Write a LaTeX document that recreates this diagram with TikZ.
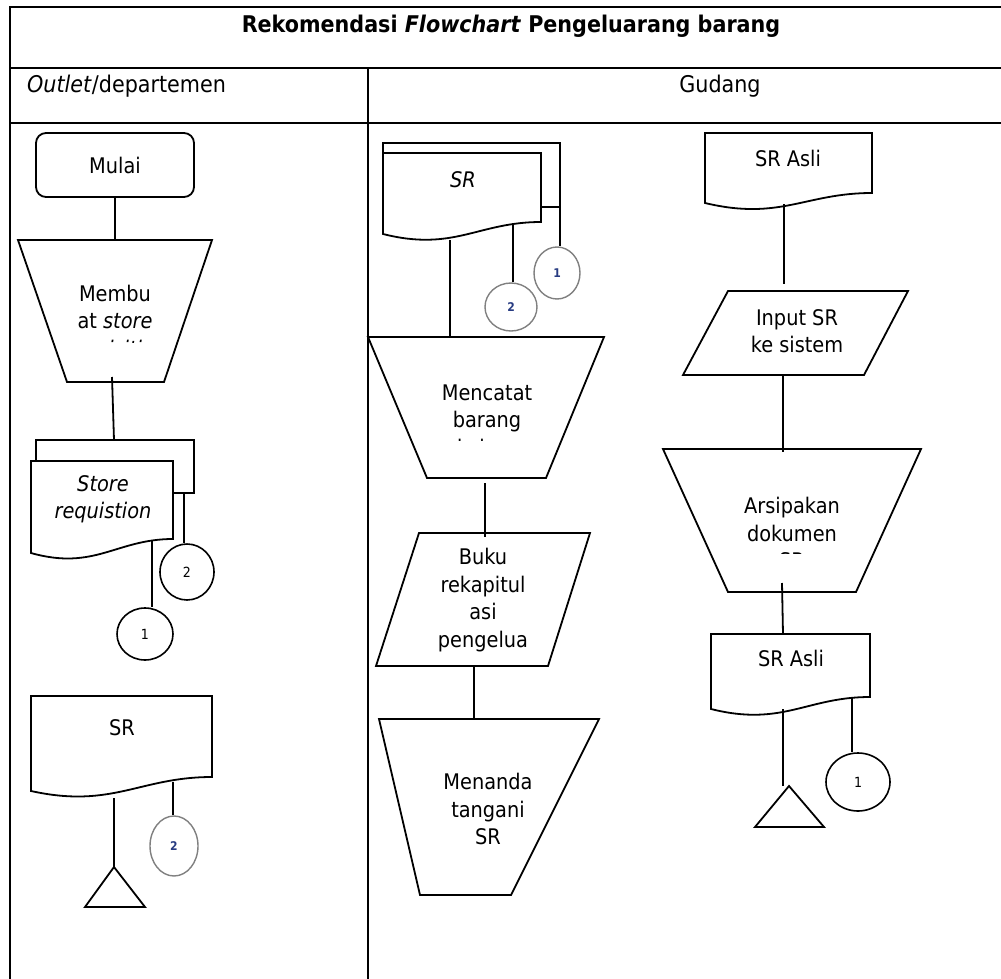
\documentclass[tikz,border=0pt]{standalone}
\usepackage{fontspec}
\setmainfont{DejaVu Sans Condensed}
\usetikzlibrary{shapes.geometric}
\definecolor{numblue}{RGB}{40,60,130}
\newcommand\fs{\fontsize{21.5}{27.5}\selectfont}
\newcommand\hs{\fontsize{23}{28}\selectfont}
% document symbol: x1, x2, top, bottom-left, bottom-right
\newcommand\docshape[5]{\draw[shp] (#1,#3) -- (#2,#3) -- (#2,#5) .. controls ({#2-0.4*(#2-#1)},#5) and ({#1+0.45*(#2-#1)},{#4+18}) .. (#1,#4) -- cycle;}
\tikzset{
  shp/.style={line width=1.8pt},
  con/.style={line width=1.8pt},
  tbl/.style={line width=2.8pt},
  txt/.style={font=\fs, align=center, inner sep=0pt},
  hdr/.style={font=\hs, align=center, inner sep=0pt},
  conn/.style={draw, ellipse, line width=1.6pt, inner sep=0pt, font=\fontsize{14}{16}\selectfont},
  gconn/.style={draw=black!50, ellipse, line width=1.4pt, inner sep=0pt, font=\fontsize{12}{14}\selectfont\bfseries, text=numblue},
}
\begin{document}
\begin{tikzpicture}[x=1pt,y=-1pt]
\useasboundingbox (0,0) rectangle (1001,979);
\clip (0,0) rectangle (1001,979);
\fill[white] (0,0) rectangle (1001,979);
% table
\draw[tbl] (10,990) -- (10,7) -- (1010,7);
\draw[tbl] (10,68) -- (1010,68);
\draw[tbl] (10,123) -- (1010,123);
\draw[tbl] (368,68) -- (368,990);
\node[hdr, font=\hs\bfseries] (title) at (511,26) {Rekomendasi \textit{Flowchart} Pengeluarang barang};
\node[hdr, anchor=west] (lane1) at (27,86) {\textit{Outlet}/departemen};
\node[hdr] (lane2) at (720,86) {Gudang};

% ---------- Outlet / departemen ----------
\node[txt, draw, shp, rounded corners=10pt, minimum width=158pt, minimum height=64pt] (mulai) at (115,165) {Mulai};
\draw[shp] (18,240) -- (212,240) -- (164,382) -- (67,382) -- cycle;
\begin{scope}
\clip (18,240) rectangle (212,342);
\node[txt] (membuat) at (115,323) {Membu\\at \textit{store}\\\textit{requisition}};
\end{scope}
\coordinate (membT) at (115,240);
\coordinate (membB) at (112,377);
% multi document
\draw[shp] (36,461) -- (36,440) -- (194,440) -- (194,493) -- (173,493);
\docshape{31}{173}{461}{553}{539}
\node[txt] (storereq) at (103,499) {\textit{Store}\\\textit{requistion}};
\coordinate (sqT) at (114,440);
\coordinate (sqW) at (152,540);
\coordinate (sqR) at (184,493);
\node[conn, minimum width=56pt, minimum height=52pt] (c1L) at (145,634) {1};
\node[conn, minimum width=54pt, minimum height=56pt] (c2L) at (187,572) {2};
% SR document
\docshape{31}{212}{696}{791}{777}
\node[txt] (srL) at (122,728) {SR};
\coordinate (srLw) at (114,798);
\coordinate (srLr) at (173,782);
\draw[shp] (114,867) coordinate (triL) -- (145,907) -- (85,907) -- cycle;
\node[gconn, minimum width=48pt, minimum height=60pt] (c2b) at (174,846) {2};

\draw[con] (mulai.south) -- (membT);
\draw[con] (membB) -- (sqT);
\draw[con] (sqW) -- (sqW |- c1L.north);
\draw[con] (sqR) -- (sqR |- c2L.north);
\draw[con] (srLw) -- (triL);
\draw[con] (srLr) -- (srLr |- c2b.north);

% ---------- Gudang (middle) ----------
\draw[shp] (383,153) -- (383,143) -- (560,143) -- (560,207) -- (541,207);
\docshape{383}{541}{153}{234}{222}
\node[txt] (srM) at (463,180) {\textit{SR}};
\coordinate (srMw) at (450,240);
\coordinate (srMr) at (513,224);
\coordinate (srMb) at (560,207);
\node[gconn, minimum width=52pt, minimum height=48pt] (c2m) at (511,307) {2};
\node[gconn, minimum width=46pt, minimum height=52pt] (c1m) at (557,273) {1};
\draw[shp] (368,337) -- (604,337) -- (546,478) -- (427,478) -- cycle;
\begin{scope}
\clip (368,337) rectangle (604,440);
\node[txt] (mencatat) at (487,420) {Mencatat\\barang\\keluar};
\end{scope}
\coordinate (mcT) at (450,337);
\coordinate (mcB) at (485,483);
\draw[shp] (419,533) -- (590,533) -- (548,666) -- (376,666) -- cycle;
\node[txt] (buku) at (483,600) {Buku\\rekapitul\\asi\\pengelua};
\coordinate (bkT) at (485,537);
\coordinate (bkB) at (474,666);
\draw[shp] (379,719) -- (599,719) -- (511,895) -- (420,895) -- cycle;
\node[txt] (menanda) at (488,809) {Menanda\\tangani\\SR};
\coordinate (mnT) at (474,719);

\draw[con] (srMw) -- (mcT);
\draw[con] (srMr) -- (srMr |- c2m.north);
\draw[con] (srMb) -- (srMb |- c1m.north);
\draw[con] (mcB) -- (bkT);
\draw[con] (bkB) -- (mnT);

% ---------- Gudang (right) ----------
\docshape{705}{872}{133}{203}{193}
\node[txt] (sra1) at (788,158) {SR Asli};
\coordinate (sa1B) at (784,204);
\draw[shp] (728,291) -- (908,291) -- (864,375) -- (683,375) -- cycle;
\node[txt] (input) at (797,331) {Input SR\\ke sistem};
\coordinate (inT) at (784,284);
\coordinate (inB) at (783,375);
\draw[shp] (663,449) -- (921,449) -- (856,592) -- (728,592) -- cycle;
\begin{scope}
\clip (663,449) rectangle (921,553);
\node[txt] (arsip) at (792,533) {Arsipakan\\dokumen\\SR};
\end{scope}
\coordinate (arT) at (783,452);
\coordinate (arB) at (782,583);
\docshape{711}{870}{634}{709}{697}
\node[txt] (sra2) at (791,658) {SR Asli};
\coordinate (sa2T) at (783,634);
\coordinate (sa2w) at (783,709);
\coordinate (sa2r) at (852,698);
\draw[shp] (789,786) coordinate (triR) -- (824,827) -- (755,827) -- cycle;
\coordinate (triRc) at (783,786);
\node[conn, minimum width=64pt, minimum height=58pt] (c1r) at (858,782) {1};

\draw[con] (sa1B) -- (inT);
\draw[con] (inB) -- (arT);
\draw[con] (arB) -- (sa2T);
\draw[con] (sa2w) -- (triRc);
\draw[con] (sa2r) -- (sa2r |- c1r.north);
\end{tikzpicture}
\end{document}
